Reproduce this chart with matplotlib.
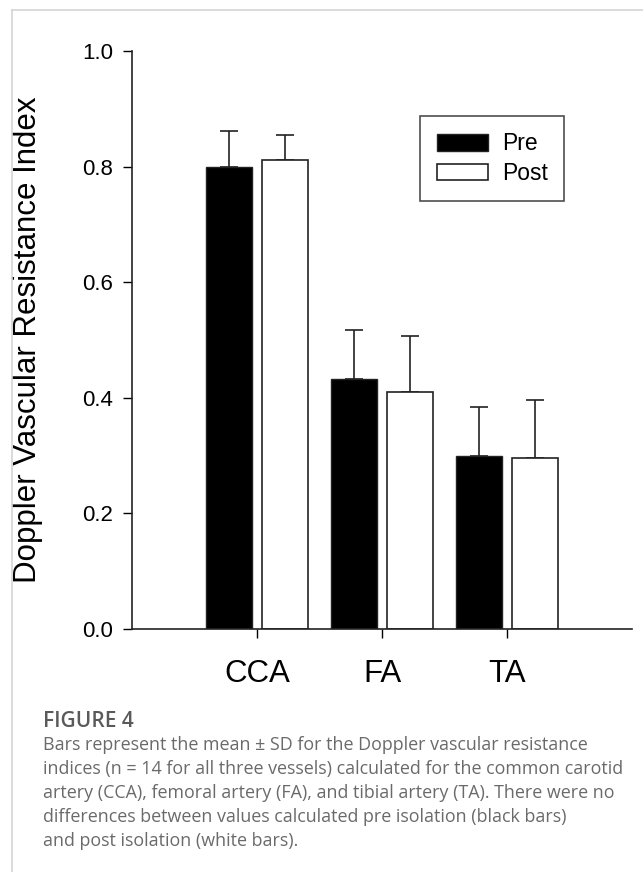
import matplotlib
matplotlib.use("Agg")
import matplotlib.pyplot as plt
from matplotlib.lines import Line2D
import numpy as np

vessels = ["CCA", "FA", "TA"]
pre_mean = [0.80, 0.433, 0.300]
pre_sd = [0.062, 0.084, 0.084]
post_mean = [0.812, 0.410, 0.295]
post_sd = [0.043, 0.097, 0.102]

caption_title = "FIGURE 4"
caption_lines = [
    "Bars represent the mean \u00b1 SD for the Doppler vascular resistance",
    "indices (n = 14 for all three vessels) calculated for the common carotid",
    "artery (CCA), femoral artery (FA), and tibial artery (TA). There were no",
    "differences between values calculated pre isolation (black bars)",
    "and post isolation (white bars).",
]

W, H = 643, 872
fig = plt.figure(figsize=(W / 100, H / 100), dpi=100)
ax = fig.add_axes([132 / W, 1 - 629 / H, 500 / W, 578 / H])

plt.rcParams['font.family'] = ['Liberation Sans', 'DejaVu Sans']

x = np.arange(1, len(vessels) + 1)
off = 0.226
bw = 0.37

ax.bar(x - off, pre_mean, bw, color='black', edgecolor='#222222', linewidth=1.0, label='Pre', zorder=2)
ax.bar(x + off, post_mean, bw, color='white', edgecolor='#222222', linewidth=1.2, label='Post', zorder=2)
ax.errorbar(x - off, pre_mean, yerr=[np.zeros(3), pre_sd], fmt='none', ecolor='#222222',
            elinewidth=1.2, capsize=6.5, capthick=1.2, zorder=1)
ax.errorbar(x + off, post_mean, yerr=[np.zeros(3), post_sd], fmt='none', ecolor='#222222',
            elinewidth=1.2, capsize=6.5, capthick=1.2, zorder=1)

ax.set_xlim(0, 4)
ax.set_ylim(0, 1.0)
ax.set_xticks(x)
ax.set_xticklabels(vessels, fontsize=22.5, family='Liberation Sans')
ax.set_yticks(np.arange(0, 1.01, 0.2))
ax.set_yticklabels([f"{v:.1f}" for v in np.arange(0, 1.01, 0.2)], fontsize=16, family='Liberation Sans')
ax.tick_params(axis='y', direction='out', length=6.5, width=1, pad=7)
ax.tick_params(axis='x', direction='out', length=6.5, width=1, pad=15)
for s in ['top', 'right']:
    ax.spines[s].set_visible(False)
for s in ['left', 'bottom']:
    ax.spines[s].set_linewidth(1.2)
    ax.spines[s].set_color('#222222')

ax.set_ylabel("Doppler Vascular Resistance Index", fontsize=22.5, family='Liberation Sans')
ax.yaxis.set_label_coords(-(132 - 43) / 500, 0.5)

leg = ax.legend(loc='upper left', bbox_to_anchor=(420 / W, 1 - 116 / H), bbox_transform=fig.transFigure,
                borderaxespad=0, fancybox=False, frameon=True,
                handlelength=2.25, handleheight=0.75, handletextpad=0.6, borderpad=0.72,
                labelspacing=0.28, prop={'family': 'Liberation Sans', 'size': 16.5})
leg.get_frame().set_edgecolor('#222222')
leg.get_frame().set_linewidth(1.2)

# page border
fig.add_artist(Line2D([12 / W, 12 / W], [0, 1 - 10 / H], color='#d4d4d4', lw=1.2))
fig.add_artist(Line2D([12 / W, 1], [1 - 10 / H, 1 - 10 / H], color='#d4d4d4', lw=1.2))

fig.text(43 / W, 1 - 721 / H, caption_title, fontsize=15, family='Open Sans', weight='semibold',
         color='#5a5a5a', va='center', ha='left')
for i, line in enumerate(caption_lines):
    fig.text(43 / W, 1 - (745 + 24 * i) / H, line, fontsize=12.9, family='Open Sans',
             color='#6a6a6a', va='center', ha='left')

fig.savefig("out.png", dpi=100)
